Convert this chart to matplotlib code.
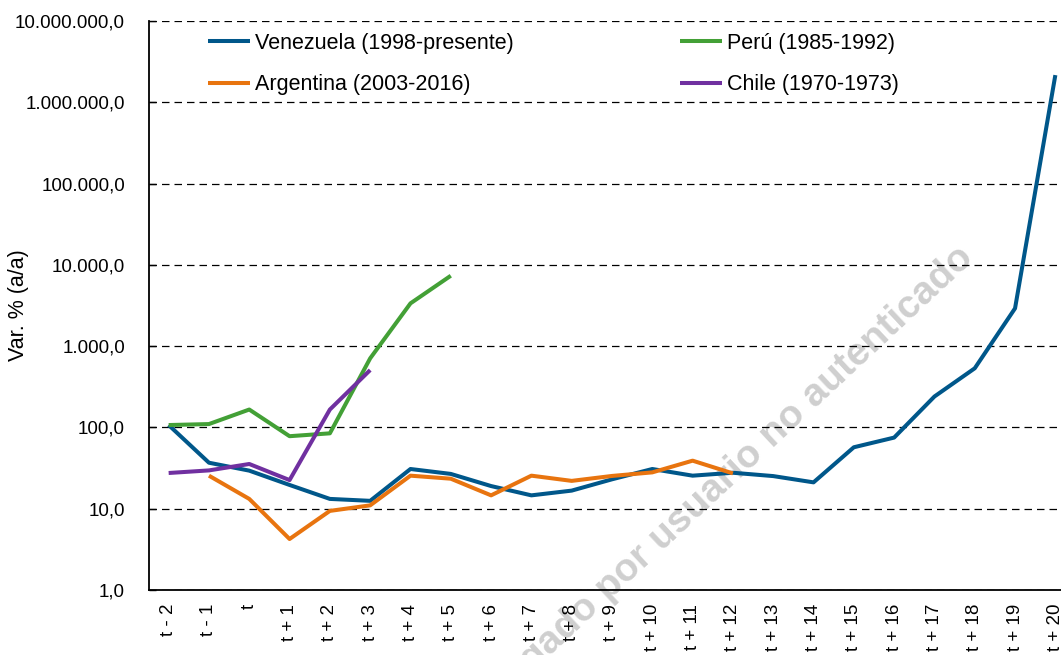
import numpy as np
import matplotlib
matplotlib.use("Agg")
import matplotlib.pyplot as plt
from matplotlib.ticker import FixedLocator, NullLocator

plt.rcParams['font.family'] = ['Liberation Sans', 'DejaVu Sans']

# Categories (years relative to crisis start)
periods = ['t - 2', 't - 1', 't'] + ['t + %d' % i for i in range(1, 21)]

# Inflation, % y/y (log scale)
venezuela = [107, 36.8, 29.4, 19.6, 13.2, 12.5, 30.8, 26.8, 19.0, 14.6, 16.7, 23.0,
             30.8, 25.5, 27.7, 25.2, 21.1, 57, 75, 240, 534, 2917, 2160000]
argentina = [None, 25.5, 13.2, 4.24, 9.4, 11.0, 25.5, 23.4, 14.6, 25.5, 22.0, 25.3,
             28.0, 39.0, 27.2]
peru = [107, 110, 166, 78, 84.6, 708, 3360, 7350]
chile = [27.5, 29.6, 35.5, 22.5, 166, 508]

series_names = ['Venezuela (1998-presente)', 'Argentina (2003-2016)',
                'Perú (1985-1992)', 'Chile (1970-1973)']
series_colors = ['#00578A', '#E8740F', '#43A036', '#7030A0']

y_ticks = [1, 10, 100, 1000, 10000, 100000, 1000000, 10000000]
y_tick_labels = ['1,0', '10,0', '100,0', '1.000,0', '10.000,0', '100.000,0',
                 '1.000.000,0', '10.000.000,0']

fig = plt.figure(figsize=(10.61, 6.55), dpi=100)
ax = fig.add_axes([148.5 / 1061, 65 / 655, 927 / 1061, 569 / 655])

x = np.arange(len(periods))
lines = []
for vals, name, col in zip([venezuela, argentina, peru, chile], series_names, series_colors):
    v = np.array([np.nan if a is None else a for a in vals], dtype=float)
    ln, = ax.plot(x[:len(v)], v, color=col, lw=2.9, label=name, solid_capstyle='butt', zorder=3)
    lines.append(ln)

ax.set_yscale('log')
ax.set_ylim(1, 1e7)
ax.set_xlim(-0.5, len(periods) - 0.5)
ax.yaxis.set_major_locator(FixedLocator(y_ticks))
ax.yaxis.set_minor_locator(NullLocator())
ax.set_yticklabels(y_tick_labels, fontsize=13.5)
ax.set_xticks(x)
ax.set_xticklabels(periods, rotation=90, fontsize=13.5, va='top', ha='center')
ax.tick_params(axis='y', direction='in', length=5, width=1, pad=17)
ax.tick_params(axis='x', length=0, pad=10)

ax.grid(axis='y', which='major', color='black', lw=0.9, linestyle=(0, (6, 4)))
ax.set_axisbelow(False)
for s in ['top', 'right']:
    ax.spines[s].set_visible(False)
for s in ['left', 'bottom']:
    ax.spines[s].set_linewidth(1.3)

ax.set_ylabel('Var. % (a/a)', fontsize=15.5)
ax.yaxis.set_label_coords((29 - 148.5) / 927, 0.5)

# legend: two columns, no frame
order = [0, 1, 2, 3]
ax.legend([lines[i] for i in order], [series_names[i] for i in order], ncol=2,
          frameon=False, fontsize=15.5, handlelength=1.95, handletextpad=0.25,
          columnspacing=7.7, labelspacing=0.95, borderpad=0, borderaxespad=0,
          loc='upper left', bbox_to_anchor=(208 / 1061, 1 - 33 / 655),
          bbox_transform=fig.transFigure)

# watermark (sits under the lines)
ax.text(975 / 1061, 1 - 260 / 655, 'Documento descargado por usuario no autenticado',
        transform=fig.transFigure, rotation=43, rotation_mode='anchor',
        ha='right', va='baseline', fontsize=28, fontweight='bold',
        color='#cfcfcf', zorder=1, clip_on=False)

fig.savefig('out.png', dpi=100)
